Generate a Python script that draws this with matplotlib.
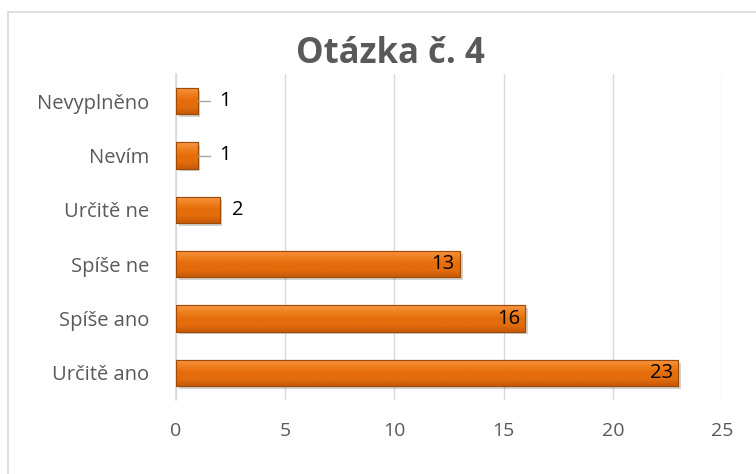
import matplotlib.pyplot as plt
import matplotlib.patches as patches
from matplotlib.colors import LinearSegmentedColormap
import numpy as np

# data
categories = ["Určitě ano", "Spíše ano", "Spíše ne", "Určitě ne", "Nevím", "Nevyplněno"]
values = [23, 16, 13, 2, 1, 1]
leader = [False, False, False, False, True, True]
xticks = [0, 5, 10, 15, 20, 25]

plt.rcParams['font.family'] = ['Open Sans', 'DejaVu Sans']

fig = plt.figure(figsize=(7.56, 4.74), dpi=100)
ax = fig.add_axes([176 / 756, 1 - 400 / 474, (722 - 176) / 756, (400 - 74) / 474])

# chart border
fig.patches.append(patches.Rectangle((8 / 756, -0.1), 1.2, 1 - 12 / 474 + 0.1,
                                     transform=fig.transFigure, fill=False,
                                     edgecolor='#d9d9d9', linewidth=1.2))

y = np.arange(len(categories))
bars = ax.barh(y, values, height=0.48, color='#e46c0a', edgecolor='#a04a08',
               linewidth=0.8, zorder=3)

# gradient + shadow for a bevelled look
grad = np.linspace(0, 1, 64).reshape(-1, 1)
cmap = LinearSegmentedColormap.from_list('bev', ['#f79646', '#f0801e', '#e46c0a', '#e46c0a', '#c55a0b'])
for b in bars:
    x0, y0 = b.get_x(), b.get_y()
    w, h = b.get_width(), b.get_height()
    sh = patches.Rectangle((x0 + 0.12, y0 - 0.05), w, h, facecolor='#000000',
                           alpha=0.18, edgecolor='none', zorder=2)
    ax.add_patch(sh)
    im = ax.imshow(grad, extent=(x0, x0 + w, y0, y0 + h), origin='upper',
                   cmap=cmap, aspect='auto', zorder=3.5)
    im.set_clip_path(b)
    ax.add_patch(patches.Rectangle((x0, y0), w, h, fill=False,
                                   edgecolor='#a04a08', linewidth=0.8, zorder=4))

# data labels
for yi, v, ld in zip(y, values, leader):
    if v > 5:
        ax.text(v - 0.25, yi, str(v), ha='right', va='center', fontsize=14.5,
                color='black', zorder=5)
    elif ld:
        ax.plot([v, v + 0.55], [yi, yi], color='#a6a6a6', linewidth=1, zorder=5)
        ax.text(v + 1.24, yi, str(v), ha='center', va='center', fontsize=14.5,
                color='black', zorder=5)
    else:
        ax.text(v + 0.85, yi, str(v), ha='center', va='center', fontsize=14.5,
                color='black', zorder=5)

ax.set_xlim(0, 25)
ax.set_ylim(-0.5, len(categories) - 0.5)
ax.set_xticks(xticks)
ax.set_xticklabels([str(t) for t in xticks])
ax.set_yticks(y)
ax.set_yticklabels(categories)
ax.tick_params(axis='x', length=0, pad=16, labelsize=14, colors='#595959')
ax.tick_params(axis='y', length=0, pad=19, labelsize=14.5, colors='#595959')
ax.grid(axis='x', color='#d9d9d9', linewidth=1, zorder=0)
for s in ['top', 'right', 'bottom']:
    ax.spines[s].set_visible(False)
ax.spines['left'].set_color('#d9d9d9')
ax.spines['left'].set_linewidth(1.2)

fig.text(390 / 756, 1 - 54 / 474, "Otázka č. 4", ha='center', va='center',
         fontsize=25, fontweight='bold', color='#595959')

fig.savefig('out.png', dpi=100)
